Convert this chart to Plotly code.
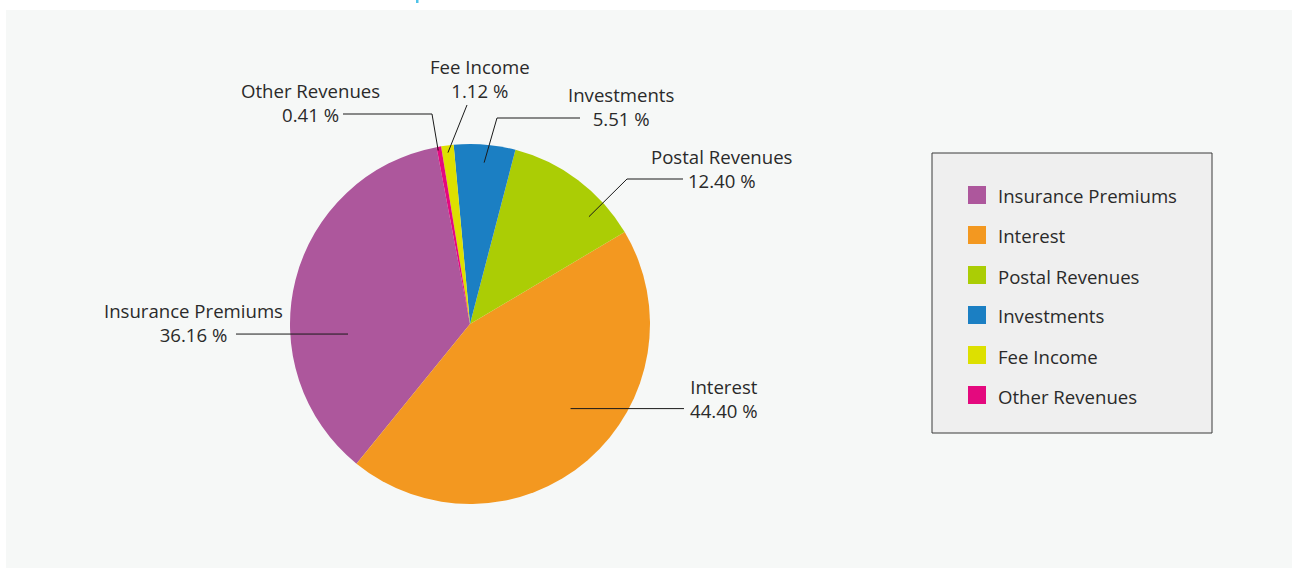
import math
import plotly.graph_objects as go

# Revenue breakdown (share of total, %)
labels = ["Insurance Premiums", "Interest", "Postal Revenues", "Investments", "Fee Income", "Other Revenues"]
shares = [36.16, 44.40, 12.40, 5.51, 1.12, 0.41]
colors = ["#ad579c", "#f39820", "#abcd05", "#1b7fc3", "#dde000", "#e4097e"]

W, H = 1292, 570
CX, CY, R = 470, 324, 180
ROTATION = 219.1  # degrees clockwise from 12 o'clock where the first slice begins
FONT = "Open Sans"
FONT_SIZE = 18.6
TEXT_COLOR = "#2a2a2a"


def fx(x):
    return x / W


def fy(y):
    return 1 - y / H


# label placement: angle nudge, radius fraction for the leader start,
# optional elbow point, end x of the horizontal run, and text block centre
label_layout = [
    dict(nudge=-18.9, rf=0.68, elbow=None, end_x=236, text=(193, 322)),
    dict(nudge=-9.1, rf=0.73, elbow=None, end_x=684, text=(724, 398)),
    dict(nudge=11.0, rf=0.89, elbow=(627, 179), end_x=683, text=(722, 168)),
    dict(nudge=0.3, rf=0.90, elbow=(497, 118), end_x=580, text=(621, 106)),
    dict(nudge=-0.1, rf=0.96, elbow=(467, 105), end_x=None, text=(480, 79)),
    dict(nudge=-0.4, rf=0.98, elbow=(432, 114), end_x=343, text=(310, 102)),
]

# mid angles of the slices, laid out counterclockwise as plotly does
total = sum(shares)
mid_angles = []
end = ROTATION + shares[0] / total * 360
for v in shares:
    a = v / total * 360
    start = end - a
    mid_angles.append((start + end) / 2)
    end = start

fig = go.Figure()
fig.add_trace(go.Pie(
    labels=labels,
    values=shares,
    sort=False,
    direction="counterclockwise",
    rotation=ROTATION,
    marker=dict(colors=colors, line=dict(width=0)),
    textinfo="none",
    hoverinfo="label+percent",
    showlegend=False,
    domain=dict(x=[fx(CX - R), fx(CX + R)], y=[fy(CY + R), fy(CY - R)]),
))

shapes = [
    # panel background
    dict(type="rect", xref="paper", yref="paper", x0=fx(6), x1=fx(1292), y0=fy(568), y1=fy(10),
         fillcolor="#f6f8f7", line=dict(width=0), layer="below"),
    dict(type="rect", xref="paper", yref="paper", x0=fx(416), x1=fx(418.5), y0=fy(3), y1=fy(0),
         fillcolor="#4fc3e8", line=dict(width=0), layer="below"),
]
annotations = []

for name, v, ang, lay in zip(labels, shares, mid_angles, label_layout):
    th = math.radians(ang + lay["nudge"])
    r = lay["rf"] * R
    x0, y0 = CX + r * math.sin(th), CY - r * math.cos(th)
    pts = [(x0, y0)]
    if lay["elbow"] is not None:
        pts.append(lay["elbow"])
    if lay["end_x"] is not None:
        pts.append((lay["end_x"], pts[-1][1]))
    path = "M " + " L ".join(f"{fx(x):.5f},{fy(y):.5f}" for x, y in pts)
    shapes.append(dict(type="path", xref="paper", yref="paper", path=path,
                       line=dict(color="#1a1a1a", width=1)))
    tx, ty = lay["text"]
    annotations.append(dict(
        xref="paper", yref="paper", x=fx(tx), y=fy(ty), xanchor="center", yanchor="middle",
        text=f"{name}<br>{v:.2f} %", showarrow=False, align="center",
        font=dict(family=FONT, size=FONT_SIZE, color=TEXT_COLOR),
    ))

# legend box
LX0, LY0, LX1, LY1 = 932, 153, 1212, 433
shapes.append(dict(type="rect", xref="paper", yref="paper", x0=fx(LX0), x1=fx(LX1), y0=fy(LY1), y1=fy(LY0),
                   fillcolor="#efefef", line=dict(color="#3a3a3a", width=1)))
for i, (name, c) in enumerate(zip(labels, colors)):
    yc = 195 + 40 * i
    shapes.append(dict(type="rect", xref="paper", yref="paper", x0=fx(968), x1=fx(986),
                       y0=fy(yc + 9), y1=fy(yc - 9), fillcolor=c, line=dict(width=0)))
    annotations.append(dict(
        xref="paper", yref="paper", x=fx(996), y=fy(yc + 1), xanchor="left", yanchor="middle",
        text=name, showarrow=False, font=dict(family=FONT, size=FONT_SIZE, color=TEXT_COLOR),
    ))

fig.update_layout(
    width=W, height=H, autosize=False,
    margin=dict(l=0, r=0, t=0, b=0),
    paper_bgcolor="#ffffff", plot_bgcolor="#ffffff",
    shapes=shapes, annotations=annotations,
    font=dict(family=FONT),
)

fig.write_html("out.html")
